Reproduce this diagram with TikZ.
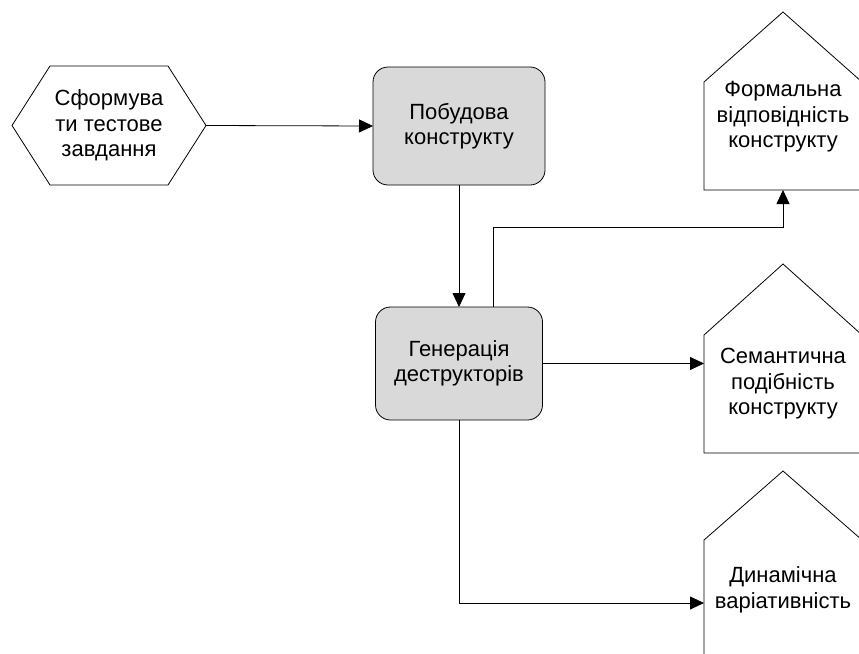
\documentclass[tikz,border=0pt]{standalone}
\usepackage{fontspec}
\setmainfont{Liberation Sans}
\usetikzlibrary{arrows.meta, calc}
\definecolor{boxgray}{RGB}{217,217,217}

\begin{document}
\begin{tikzpicture}[x=1pt, y=-1pt, >={Triangle[length=14pt, width=13pt]}, line width=0.8pt, every node/.style={font=\fontsize{22}{25.5}\selectfont, align=center, outer sep=0pt}]
  \useasboundingbox (0,0) rectangle (859,653);
  % task hexagon
  \node[minimum width=118pt, minimum height=119pt] (task) at (109,125.5) {Сформува\\ти тестове\\завдання};
  \draw ($(task.west)+(-38,0)$) coordinate (taskW) -- (task.north west) -- (task.north east) -- ($(task.east)+(38,0)$) coordinate (taskE) -- (task.south east) -- (task.south west) -- cycle;
  % process boxes
  \node[draw, rounded corners=15pt, fill=boxgray, minimum width=172pt, minimum height=118pt] (build) at (459,126) {Побудова\\конструкту};
  \node[draw, rounded corners=15pt, fill=boxgray, minimum width=167pt, minimum height=113pt] (gener) at (459,363.5) {Генерація\\деструкторів};
  % result houses
  \node[minimum width=158pt, minimum height=108pt] (formal) at (783,136) {};
  \draw (formal.south west) -- (formal.north west) -- ($(formal.north)+(0,-70)$) -- (formal.north east) -- (formal.south east) -- cycle;
  \node (formaltxt) at (783,117) {Формальна\\відповідність\\конструкту};
  \node[minimum width=158pt, minimum height=118pt] (seman) at (783,394) {};
  \draw (seman.south west) -- (seman.north west) -- ($(seman.north)+(0,-71)$) -- (seman.north east) -- (seman.south east) -- cycle;
  \node (semantxt) at (783,384) {Семантична\\подібність\\конструкту};
  \node[minimum width=158pt, minimum height=126pt] (dynam) at (783,603) {};
  \draw (dynam.south west) -- (dynam.north west) -- ($(dynam.north)+(0,-69)$) -- (dynam.north east) -- (dynam.south east) -- cycle;
  \node (dynamtxt) at (783,590) {Динамічна\\варіативність};
  % connectors
  \draw[->] (taskE) -- (build.west);
  \draw[->] (build.south) -- (gener.north);
  \draw[->] ($(gener.north)+(34,0)$) -- ++(0,-80) -| (formal.south);
  \draw[->] (gener.east) -- (gener.east -| seman.west);
  \draw[->] (gener.south) |- (dynam.west);
\end{tikzpicture}
\end{document}
